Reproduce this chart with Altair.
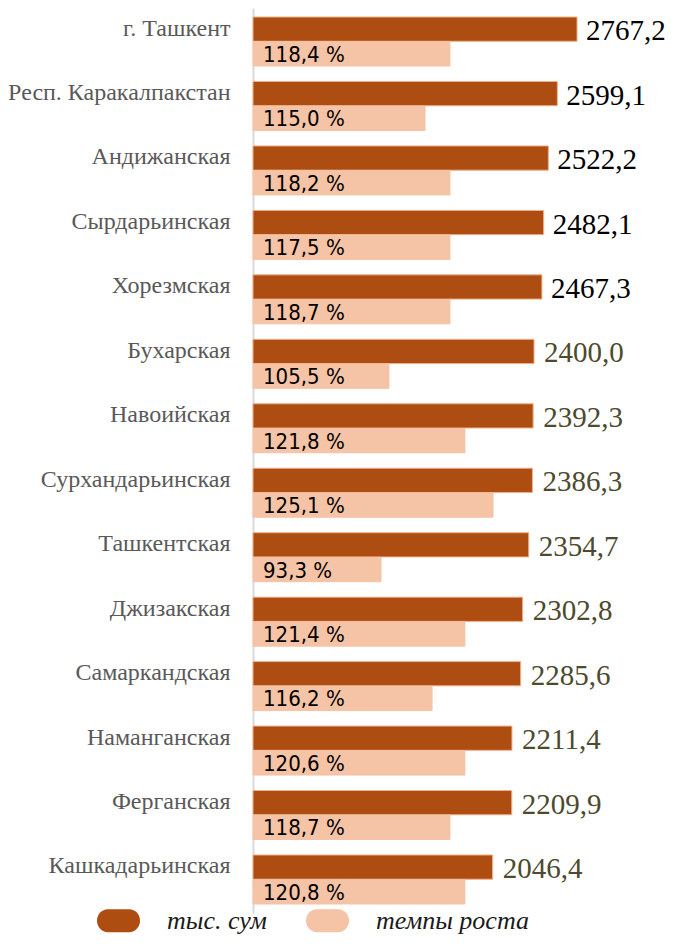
import altair as alt
import pandas as pd

regions = ["г. Ташкент", "Респ. Каракалпакстан", "Андижанская", "Сырдарьинская",
           "Хорезмская", "Бухарская", "Навоийская", "Сурхандарьинская",
           "Ташкентская", "Джизакская", "Самаркандская", "Наманганская",
           "Ферганская", "Кашкадарьинская"]
wage = [2767.2, 2599.1, 2522.2, 2482.1, 2467.3, 2400.0, 2392.3, 2386.3,
        2354.7, 2302.8, 2285.6, 2211.4, 2209.9, 2046.4]
growth = [118.4, 115.0, 118.2, 117.5, 118.7, 105.5, 121.8, 125.1,
          93.3, 121.4, 116.2, 120.6, 118.7, 120.8]
# length of the light bars as drawn in the picture (in x-axis units)
growth_bar = [1682, 1469, 1682, 1682, 1682, 1161, 1810, 2050,
              1093, 1810, 1529, 1810, 1682, 1810]
series = ["тыс. сум", "темпы роста"]

rows = []
for r, w, g, gb in zip(regions, wage, growth, growth_bar):
    rows.append({"region": r, "series": series[0], "bar": w, "zero": 0,
                 "label": f"{w:.1f}".replace(".", ",")})
    rows.append({"region": r, "series": series[1], "bar": gb, "zero": 0,
                 "label": f"{g:.1f} %".replace(".", ",")})
df = pd.DataFrame(rows)

DARK = "#AE4D12"
LIGHT = "#F5C3A5"

y = alt.Y("region:N", sort=regions,
          scale=alt.Scale(paddingInner=0.24, paddingOuter=0.14),
          axis=alt.Axis(title=None, ticks=False, labelPadding=23, labelOffset=-13,
                        labelFont="Liberation Serif", labelFontSize=24,
                        labelColor="#595959", labelLimit=400,
                        domainColor="#D9D9D9", domainWidth=2))
yoff = alt.YOffset("series:N", sort=series,
                   scale=alt.Scale(domain=series, paddingInner=0.02, paddingOuter=0))
xscale = alt.Scale(domain=[0, 3544], nice=False, zero=True)
x = alt.X("bar:Q", scale=xscale, axis=None)

base = alt.Chart(df)

bars = base.mark_bar(strokeWidth=1).encode(
    x=x, y=y, yOffset=yoff,
    color=alt.Color("series:N", sort=series,
                    scale=alt.Scale(domain=series, range=[DARK, LIGHT]),
                    legend=alt.Legend(
                        title=None, orient="none", legendX=-156, legendY=891,
                        direction="horizontal",
                        symbolType="M-0.5,-0.53L0.5,-0.53A0.5,0.53 0 0 1 0.5,0.53L-0.5,0.53A0.5,0.53 0 0 1 -0.5,-0.53Z",
                        symbolSize=1849, symbolStrokeWidth=0, symbolOpacity=1,
                        labelFont="Liberation Serif", labelFontStyle="italic",
                        labelFontSize=26, labelColor="#1a1a1a",
                        labelOffset=27, columnPadding=39, padding=0)),
    stroke=alt.Stroke("series:N", sort=series,
                      scale=alt.Scale(domain=series, range=["#EFB08A", LIGHT]),
                      legend=None),
)

pct = base.transform_filter(alt.datum.series == series[1]).mark_text(
    align="left", baseline="middle", dx=10, dy=1,
    font="Liberation Sans Narrow, DejaVu Sans Condensed", fontSize=22, color="#000000"
).encode(x=alt.X("zero:Q", scale=xscale, axis=None), y=y, yOffset=yoff, text="label:N")

top_regions = regions[:5]
vals_black = base.transform_filter(alt.datum.series == series[0]).transform_filter(
    alt.FieldOneOfPredicate(field="region", oneOf=top_regions)).mark_text(
    align="left", baseline="middle", dx=9, dy=2,
    font="Liberation Serif", fontSize=29, color="#000000"
).encode(x=x, y=y, yOffset=yoff, text="label:N")

vals_olive = base.transform_filter(alt.datum.series == series[0]).transform_filter(
    ~alt.FieldOneOfPredicate(field="region", oneOf=top_regions)).mark_text(
    align="left", baseline="middle", dx=10, dy=2,
    font="Liberation Serif", fontSize=29, color="#4D4A2E"
).encode(x=x, y=y, yOffset=yoff, text="label:N")

chart = alt.layer(bars, pct, vals_black, vals_olive).properties(
    width=415, height=905, background="white",
    autosize=alt.AutoSizeParams(type="none"),
    padding={"left": 245, "top": 0, "right": 0, "bottom": 23},
).configure_view(stroke=None)

chart.save("out.html", embed_options={"renderer": "svg", "actions": False})
